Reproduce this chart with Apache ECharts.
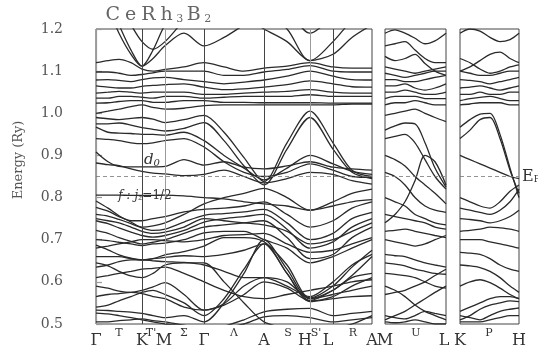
<!DOCTYPE html>
<html><head><meta charset="utf-8">
<script src="https://cdn.jsdelivr.net/npm/echarts@6/dist/echarts.min.js"></script>
<style>html,body{margin:0;padding:0;background:#fff}#c{width:538px;height:354px}</style>
</head><body><div id="c"></div>
<script>
// ---------- data ----------
const EF = 0.846;
const yMin = 0.5, yMax = 1.2, yStep = 0.1;
// k-path sample positions (panel 1: Γ-T-K-M-Σ-Γ-Λ-A-S-H-L-R-A, panel 2: M-U-L, panel 3: K-P-H)
const kx1 = [0,12,23,35,46,57,69,88,108,128,148,168,191,214,237,256,276];
const kx2 = [0,10,20,30,40,50,61];
const kx3 = [0,10,20,30,40,50,59];
const p1Sym = [46,69,108,168,214,237];
const p1SymLight = [false,true,false,false,true,false];
const p1LabelPos = [0,23,46,55,68,88,108,138,168,192,209,220,232,257,276];
const p1LabelTxt = ['Γ','T','K',"T'",'M','Σ','Γ','Λ','A','S','H',"S'",'L','R','A'];
const p1LabelSmall = [0,1,0,1,0,1,0,1,0,1,0,1,0,1,0];
const p2LabelPos = [0,31,59];
const p2LabelTxt = ['M','U','L'];
const p2LabelSmall = [0,1,0];
const p3LabelPos = [0,29,59];
const p3LabelTxt = ['K','P','H'];
const p3LabelSmall = [0,1,0];

// panel 1 bands (energy in Ry at kx1)
const u1 = [1.32,1.27,1.21,1.15,1.112,1.15,1.21,1.27,1.30,1.27,1.23,1.20,1.17,1.125,1.17,1.22,1.25];
const u2 = [1.30,1.25,1.19,1.14,1.112,1.13,1.16,1.19,1.16,1.18,1.21,1.24,1.20,1.125,1.14,1.18,1.21];
const u3 = [1.24,1.25,1.26,1.21,1.17,1.152,1.17,1.22,1.26,1.28,1.30,1.30,1.25,1.19,1.23,1.27,1.30];
const u4 = [1.12,1.125,1.128,1.12,1.105,1.10,1.104,1.11,1.12,1.11,1.10,1.107,1.112,1.12,1.11,1.107,1.107];
const u5 = [1.098,1.098,1.095,1.09,1.092,1.096,1.10,1.10,1.10,1.09,1.09,1.098,1.104,1.113,1.10,1.098,1.098];
const u6 = [1.079,1.08,1.078,1.075,1.08,1.084,1.085,1.08,1.075,1.07,1.074,1.079,1.088,1.10,1.088,1.08,1.079];
const u7 = [1.065,1.062,1.06,1.06,1.064,1.066,1.068,1.07,1.062,1.056,1.058,1.062,1.068,1.077,1.07,1.063,1.062];
const u8 = [1.048,1.05,1.052,1.05,1.048,1.05,1.05,1.05,1.045,1.045,1.048,1.05,1.052,1.056,1.05,1.048,1.048];
const u9 = [1.036,1.036,1.04,1.04,1.038,1.036,1.04,1.04,1.036,1.038,1.04,1.04,1.04,1.044,1.04,1.04,1.04];
const u10 = [1.024,1.025,1.028,1.03,1.03,1.026,1.026,1.03,1.03,1.026,1.026,1.025,1.025,1.025,1.024,1.024,1.024];
const u11 = [1.0,1.005,1.01,1.016,1.02,1.014,1.01,1.012,1.018,1.02,1.02,1.02,1.02,1.02,1.02,1.022,1.022];
const m1 = [0.99,0.987,0.985,0.988,0.99,0.986,0.978,0.985,0.995,0.955,0.895,0.838,0.93,1.005,0.93,0.865,0.85];
const m2 = [0.975,0.975,0.977,0.972,0.966,0.962,0.958,0.964,0.978,0.935,0.875,0.83,0.915,0.99,0.915,0.86,0.845];
const m3 = [0.967,0.955,0.953,0.952,0.95,0.95,0.948,0.955,0.935,0.90,0.87,0.842,0.87,0.90,0.88,0.862,0.855];
const m4 = [0.908,0.885,0.874,0.873,0.873,0.873,0.874,0.89,0.877,0.885,0.872,0.868,0.875,0.885,0.872,0.868,0.865];
const m5 = [0.882,0.878,0.876,0.868,0.862,0.858,0.856,0.852,0.855,0.865,0.85,0.835,0.845,0.86,0.855,0.84,0.832];
const m6 = [0.94,0.938,0.935,0.93,0.928,0.93,0.935,0.94,0.92,0.885,0.86,0.85,0.86,0.88,0.865,0.85,0.848];
const f1 = [0.806,0.806,0.806,0.805,0.805,0.805,0.806,0.804,0.80,0.797,0.79,0.785,0.78,0.77,0.78,0.79,0.795];
const l1 = [0.792,0.775,0.757,0.742,0.73,0.733,0.74,0.76,0.785,0.80,0.81,0.822,0.80,0.77,0.79,0.81,0.82];
const l2 = [0.777,0.768,0.755,0.745,0.745,0.75,0.755,0.766,0.772,0.775,0.78,0.79,0.76,0.73,0.745,0.775,0.79];
const l3 = [0.76,0.756,0.748,0.738,0.728,0.722,0.725,0.742,0.758,0.762,0.766,0.772,0.74,0.70,0.715,0.75,0.765];
const l4 = [0.745,0.738,0.728,0.718,0.71,0.706,0.71,0.722,0.742,0.75,0.755,0.76,0.725,0.68,0.695,0.73,0.75];
const l5 = [0.722,0.715,0.705,0.696,0.69,0.694,0.70,0.715,0.73,0.735,0.74,0.745,0.705,0.655,0.665,0.705,0.73];
const l6 = [0.70,0.698,0.694,0.69,0.686,0.69,0.692,0.70,0.716,0.72,0.72,0.70,0.68,0.645,0.66,0.68,0.70];
const l7 = [0.687,0.676,0.664,0.656,0.652,0.655,0.664,0.672,0.685,0.705,0.705,0.695,0.64,0.562,0.59,0.635,0.675];
const l8 = [0.66,0.66,0.66,0.655,0.652,0.655,0.658,0.662,0.66,0.665,0.675,0.69,0.62,0.556,0.58,0.615,0.66];
const l9 = [0.645,0.638,0.625,0.614,0.61,0.62,0.64,0.645,0.645,0.60,0.55,0.505,0.49,0.485,0.49,0.50,0.52];
const l10 = [0.635,0.64,0.648,0.652,0.652,0.65,0.648,0.646,0.64,0.625,0.61,0.61,0.60,0.56,0.58,0.61,0.62];
const l11 = [0.59,0.585,0.578,0.575,0.58,0.588,0.598,0.57,0.533,0.548,0.59,0.61,0.59,0.565,0.60,0.64,0.665];
const l12 = [0.565,0.57,0.572,0.575,0.572,0.565,0.56,0.54,0.533,0.545,0.57,0.60,0.585,0.555,0.565,0.59,0.61];
const l13 = [0.54,0.545,0.555,0.565,0.575,0.58,0.57,0.55,0.52,0.56,0.63,0.69,0.62,0.553,0.56,0.565,0.567];
const l14 = [0.533,0.532,0.53,0.528,0.525,0.52,0.515,0.52,0.505,0.55,0.62,0.70,0.63,0.56,0.57,0.58,0.59];
const l15 = [0.526,0.524,0.52,0.515,0.51,0.505,0.50,0.495,0.49,0.495,0.51,0.529,0.535,0.537,0.52,0.525,0.53];
const l16 = [0.505,0.505,0.508,0.51,0.512,0.508,0.505,0.497,0.49,0.492,0.50,0.517,0.52,0.515,0.505,0.51,0.515];
const l17 = [0.75,0.745,0.74,0.73,0.72,0.715,0.718,0.73,0.75,0.745,0.74,0.735,0.72,0.69,0.70,0.72,0.74];
const l18 = [0.68,0.685,0.69,0.695,0.70,0.70,0.698,0.695,0.70,0.71,0.712,0.715,0.69,0.67,0.675,0.69,0.705];
const l19 = [0.61,0.615,0.62,0.625,0.63,0.632,0.635,0.62,0.60,0.58,0.565,0.56,0.57,0.58,0.59,0.60,0.605];

// panel 2 bands (M-U-L)
const q1 = [1.19,1.198,1.19,1.178,1.165,1.172,1.19];
const q2 = [1.16,1.165,1.17,1.15,1.13,1.12,1.12];
const q3 = [1.135,1.125,1.13,1.14,1.118,1.10,1.09];
const q4 = [1.11,1.105,1.10,1.095,1.10,1.105,1.11];
const q5 = [1.095,1.09,1.085,1.09,1.095,1.10,1.10];
const q6 = [1.08,1.08,1.075,1.075,1.08,1.085,1.09];
const q7 = [1.065,1.065,1.07,1.06,1.055,1.06,1.07];
const q8 = [1.05,1.05,1.055,1.05,1.045,1.045,1.05];
const q9 = [1.035,1.04,1.04,1.04,1.035,1.035,1.035];
const q10 = [1.02,1.025,1.025,1.03,1.025,1.02,1.02];
const q11 = [0.995,1.0,1.005,1.01,1.0,0.99,0.98];
const q12 = [0.96,0.97,0.977,0.975,0.93,0.87,0.825];
const q13 = [0.94,0.945,0.95,0.93,0.89,0.85,0.82];
const q14 = [0.74,0.76,0.79,0.84,0.90,0.885,0.83];
const q15 = [0.90,0.89,0.875,0.85,0.83,0.81,0.785];
const q16 = [0.86,0.85,0.83,0.80,0.78,0.77,0.765];
const q17 = [0.80,0.79,0.78,0.76,0.75,0.74,0.735];
const q18 = [0.76,0.755,0.75,0.745,0.74,0.73,0.725];
const q19 = [0.72,0.722,0.725,0.72,0.715,0.71,0.705];
const q20 = [0.70,0.695,0.69,0.685,0.69,0.70,0.71];
const q21 = [0.665,0.662,0.66,0.652,0.645,0.64,0.635];
const q22 = [0.645,0.642,0.638,0.63,0.625,0.62,0.618];
const q23 = [0.62,0.618,0.615,0.61,0.60,0.59,0.585];
const q24 = [0.57,0.575,0.58,0.59,0.60,0.615,0.63];
const q25 = [0.59,0.58,0.565,0.545,0.53,0.52,0.51];
const q26 = [0.51,0.52,0.53,0.545,0.56,0.575,0.59];
const q27 = [0.52,0.515,0.512,0.52,0.53,0.525,0.52];
const q28 = [0.505,0.503,0.505,0.51,0.505,0.50,0.50];

// panel 3 bands (K-P-H)
const r1 = [1.19,1.20,1.195,1.18,1.17,1.175,1.19];
const r2 = [1.10,1.11,1.125,1.14,1.145,1.13,1.12];
const r3 = [1.13,1.12,1.105,1.095,1.10,1.11,1.115];
const r4 = [1.10,1.095,1.09,1.09,1.095,1.10,1.10];
const r5 = [1.08,1.078,1.075,1.07,1.075,1.08,1.085];
const r6 = [1.06,1.062,1.065,1.06,1.055,1.06,1.065];
const r7 = [1.045,1.045,1.05,1.045,1.045,1.05,1.05];
const r8 = [1.03,1.035,1.038,1.04,1.035,1.03,1.03];
const r9 = [1.02,1.022,1.025,1.025,1.025,1.02,1.02];
const r10 = [0.967,0.985,0.998,1.0,0.95,0.87,0.80];
const r11 = [0.94,0.96,0.985,0.99,0.94,0.865,0.81];
const r12 = [0.90,0.89,0.88,0.87,0.86,0.85,0.845];
const r13 = [0.80,0.79,0.78,0.775,0.79,0.815,0.83];
const r14 = [0.775,0.77,0.765,0.76,0.77,0.79,0.82];
const r15 = [0.75,0.748,0.745,0.74,0.745,0.755,0.77];
const r16 = [0.72,0.722,0.725,0.73,0.728,0.725,0.72];
const r17 = [0.70,0.70,0.70,0.695,0.69,0.685,0.68];
const r18 = [0.67,0.668,0.665,0.655,0.64,0.63,0.625];
const r19 = [0.64,0.638,0.634,0.625,0.61,0.59,0.575];
const r20 = [0.59,0.60,0.605,0.598,0.585,0.57,0.56];
const r21 = [0.53,0.54,0.55,0.56,0.565,0.565,0.56];
const r22 = [0.51,0.52,0.535,0.545,0.55,0.555,0.553];
const r23 = [0.52,0.515,0.51,0.52,0.53,0.535,0.538];
const r24 = [0.505,0.505,0.505,0.51,0.515,0.52,0.52];

const panel1 = [u1,u2,u3,u4,u5,u6,u7,u8,u9,u10,u11,m1,m2,m3,m4,m5,m6,f1,l1,l2,l3,l4,l5,l6,l7,l8,l9,l10,l11,l12,l13,l14,l15,l16,l17,l18,l19];
const panel2 = [q1,q2,q3,q4,q5,q6,q7,q8,q9,q10,q11,q12,q13,q14,q15,q16,q17,q18,q19,q20,q21,q22,q23,q24,q25,q26,q27,q28];
const panel3 = [r1,r2,r3,r4,r5,r6,r7,r8,r9,r10,r11,r12,r13,r14,r15,r16,r17,r18,r19,r20,r21,r22,r23,r24];

// annotations (k, E)
const d0Pos = [56, 0.889];
const fPos = [49, 0.804];

// ---------- chart ----------
const SERIF = "'DejaVu Serif', 'Liberation Serif', serif";
const chart = echarts.init(document.getElementById('c'), null, {renderer:'canvas'});
const labRich = {
  b:{fontFamily:SERIF, fontSize:16, color:'#333', lineHeight:18},
  s:{fontFamily:SERIF, fontSize:11, color:'#333', lineHeight:2}
};
function labFmt(pos, txt, small){
  return function(v){
    let best = -1, bd = 1e9;
    pos.forEach((p,i)=>{ const d = Math.abs(p - v); if (d < bd){ bd = d; best = i; } });
    if (best < 0 || bd > 0.5) return '';
    return (small[best] ? '{s|' : '{b|') + txt[best] + '}';
  };
}
function xAx(gi, max, pos, txt, small){
  return {type:'value', gridIndex:gi, min:0, max:max,
    axisLine:{show:false}, axisTick:{show:false}, splitLine:{show:false},
    axisLabel:{show:true, customValues:pos, formatter:labFmt(pos,txt,small), margin:8, rich:labRich, showMinLabel:true, showMaxLabel:true}};
}
function yAx(gi, show){
  const a = {type:'value', gridIndex:gi, min:yMin, max:yMax, interval:yStep, splitLine:{show:false}};
  if (!show){ a.show = false; return a; }
  a.position = 'left'; a.offset = 20;
  a.axisLine = {show:true, lineStyle:{color:'#9a9a9a', width:1.2}};
  a.axisTick = {show:true, inside:true, length:6, lineStyle:{color:'#9a9a9a', width:1.2}};
  a.axisLabel = {fontFamily:SERIF, fontSize:14, color:'#555', margin:13, formatter:v=>v.toFixed(1)};
  return a;
}
const efLine = {yAxis:EF, lineStyle:{color:'#777', type:[4,3], width:0.8}};
function bandSeries(xs, bands, gi, extra){
  return bands.map((b,i)=>{
    const s = {type:'line', xAxisIndex:gi, yAxisIndex:gi, data:xs.map((x,j)=>[x,b[j]]),
      smooth:0.3, symbol:'none', silent:true, animation:false,
      lineStyle:{color:'#2a2a2a', width:1.3}, z:3};
    if (i === 0 && extra) Object.assign(s, extra);
    return s;
  });
}
const p1Marks = {
  markLine:{silent:true, symbol:['none','none'], animation:false, label:{show:false},
    data: p1Sym.map((k,i)=>({xAxis:k, lineStyle:{color:p1SymLight[i]?'#9a9a9a':'#444', type:'solid', width:1}})).concat([efLine])},
  markPoint:{silent:true, animation:false, symbol:'circle', symbolSize:0,
    data:[
      {coord:d0Pos, label:{show:true, position:'inside', formatter:'{i|d}{s|0}', rich:{i:{fontFamily:SERIF, fontStyle:'italic', fontSize:15, color:'#333'}, s:{fontFamily:SERIF, fontStyle:'italic', fontSize:10, color:'#333', padding:[6,0,0,0]}}}},
      {coord:fPos, label:{show:true, position:'inside', formatter:'{i|f : j}{s|z}{n|=1/2}', rich:{i:{fontFamily:SERIF, fontStyle:'italic', fontSize:12, color:'#333'}, s:{fontFamily:SERIF, fontStyle:'italic', fontSize:8, color:'#333', padding:[5,0,0,0]}, n:{fontFamily:SERIF, fontSize:12, color:'#333'}}}}
    ]}
};
const p2Marks = {markLine:{silent:true, symbol:['none','none'], animation:false, label:{show:false}, data:[efLine]}};
const p3Marks = {markLine:{silent:true, symbol:['none','none'], animation:false,
  data:[{yAxis:EF, lineStyle:{color:'#777', type:[4,3], width:0.8},
    label:{show:true, position:'end', distance:3, formatter:'{e|E}{f|F}',
      rich:{e:{fontFamily:SERIF, fontSize:16, color:'#333'}, f:{fontFamily:SERIF, fontSize:9, color:'#333', padding:[7,0,0,0]}}}}]}};

const gridBase = {show:true, borderColor:'#444', borderWidth:1, top:29, height:295, containLabel:false};
const option = {
  animation:false,
  backgroundColor:'#fff',
  title:{text:'{a|C}{a|e}{a|R}{a|h}{s|3}{a|B}{s|2}', left:98, top:0,
    textStyle:{fontWeight:'normal', rich:{a:{fontFamily:SERIF, fontSize:19, fontWeight:'normal', color:'#666', padding:[0,2.5,0,2.5]}, s:{fontFamily:SERIF, fontSize:11, fontWeight:'normal', color:'#666', padding:[9,1,0,1]}}}},
  graphic:[{type:'text', x:19, y:160, rotation:Math.PI/2,
    style:{text:'Energy (Ry)', fontFamily:SERIF, fontSize:13, fill:'#555', align:'center', verticalAlign:'middle'}}],
  grid:[Object.assign({left:96, width:276}, gridBase), Object.assign({left:385, width:61}, gridBase), Object.assign({left:460, width:59}, gridBase)],
  xAxis:[xAx(0,276,p1LabelPos,p1LabelTxt,p1LabelSmall), xAx(1,61,p2LabelPos,p2LabelTxt,p2LabelSmall), xAx(2,59,p3LabelPos,p3LabelTxt,p3LabelSmall)],
  yAxis:[yAx(0,true), yAx(1,false), yAx(2,false)],
  series:[].concat(bandSeries(kx1,panel1,0,p1Marks), bandSeries(kx2,panel2,1,p2Marks), bandSeries(kx3,panel3,2,p3Marks))
};
chart.setOption(option);
</script></body></html>
